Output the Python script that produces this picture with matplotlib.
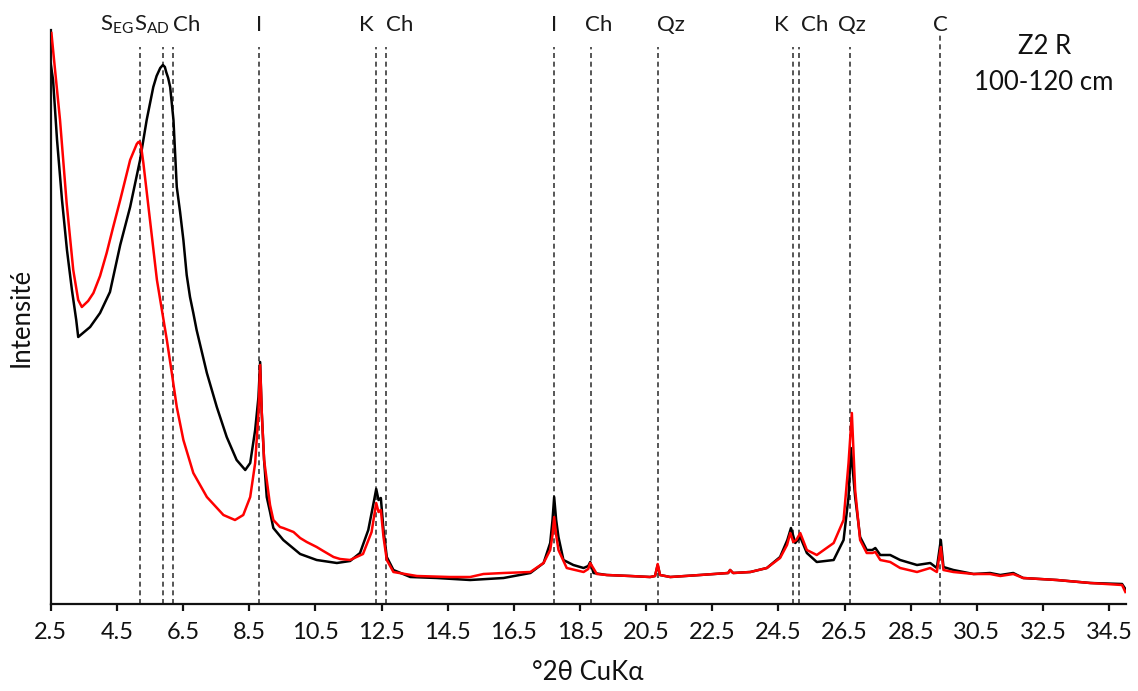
import matplotlib
matplotlib.use("Agg")
import matplotlib.pyplot as plt
import numpy as np

plt.rcParams['font.family'] = ['Lato', 'DejaVu Sans']
plt.rcParams['mathtext.default'] = 'regular'

# Diffractogram, air-dried sample (black): 2theta (deg) / intensity (a.u.)
tt_ad = [2.50, 2.57, 2.69, 2.84, 2.99, 3.14, 3.27, 3.33, 3.69, 3.99, 4.29, 4.60,
         4.90, 5.20, 5.40, 5.60, 5.70, 5.81, 5.89, 5.95, 5.99, 6.05, 6.11, 6.21,
         6.31, 6.41, 6.51, 6.61, 6.71, 6.81, 6.91, 7.22, 7.52, 7.82, 8.12, 8.38,
         8.53, 8.68, 8.78, 8.83, 8.88, 8.95, 9.03, 9.13, 9.23, 9.53, 10.04, 10.54,
         11.15, 11.55, 11.85, 12.10, 12.26, 12.34, 12.41, 12.48, 12.56, 12.66, 12.86,
         13.37, 14.17, 15.18, 16.19, 17.00, 17.40, 17.60, 17.67, 17.72, 17.78, 17.85,
         18.00, 18.30, 18.61, 18.75, 18.81, 18.91, 19.31, 20.02, 20.62, 20.77, 20.85,
         20.92, 21.23, 22.13, 22.98, 23.04, 23.13, 23.65, 24.15, 24.55, 24.77, 24.88,
         25.01, 25.16, 25.36, 25.66, 26.17, 26.47, 26.62, 26.69, 26.82, 26.97, 27.17,
         27.34, 27.43, 27.58, 27.88, 28.18, 28.69, 29.09, 29.29, 29.41, 29.49, 29.79,
         30.40, 30.90, 31.21, 31.60, 31.90, 32.92, 33.93, 34.89, 34.99]
int_ad = [540, 524, 464, 404, 354, 314, 284, 267, 277, 291, 312, 359,
          397, 444, 484, 517, 528, 536, 539, 537, 532, 526, 517, 484,
          417, 392, 364, 329, 307, 291, 274, 231, 197, 167, 144, 134,
          141, 174, 207, 242, 191, 144, 107, 92, 76, 64, 50, 44,
          41, 43, 51, 74, 101, 115, 104, 106, 74, 47, 34,
          27, 26, 24, 26, 31, 41, 61, 84, 107, 84, 67,
          44, 39, 36, 38, 42, 31, 29, 28, 27, 28, 39,
          29, 27, 29, 31, 34, 31, 32, 36, 47, 64, 76,
          61, 67, 51, 42, 44, 64, 107, 156, 107, 67, 54,
          54, 56, 49, 49, 44, 39, 41, 36, 64, 37, 34,
          30, 31, 29, 31, 26, 24, 21, 20, 15]

# Diffractogram, ethylene-glycol sample (red)
tt_eg = [2.52, 2.63, 2.78, 2.98, 3.18, 3.33, 3.44, 3.63, 3.79, 3.99, 4.19, 4.38,
         4.60, 4.75, 4.90, 5.05, 5.10, 5.15, 5.19, 5.23, 5.30, 5.50, 5.71, 5.86,
         6.01, 6.16, 6.31, 6.51, 6.81, 7.22, 7.72, 8.07, 8.32, 8.53, 8.68, 8.78,
         8.83, 8.88, 8.95, 9.03, 9.13, 9.23, 9.43, 9.53, 9.84, 10.04, 10.24, 10.54,
         10.74, 11.05, 11.25, 11.55, 11.94, 12.20, 12.34, 12.41, 12.48, 12.56, 12.66,
         12.86, 13.57, 14.57, 15.18, 15.58, 16.19, 17.00, 17.40, 17.60, 17.67, 17.72,
         17.78, 17.85, 18.10, 18.61, 18.75, 18.81, 19.01, 19.31, 20.02, 20.62, 20.77,
         20.85, 20.92, 21.23, 22.13, 22.98, 23.04, 23.13, 23.65, 24.15, 24.55, 24.76,
         24.86, 24.95, 25.04, 25.16, 25.36, 25.66, 26.17, 26.47, 26.62, 26.72, 26.82,
         26.97, 27.17, 27.34, 27.43, 27.58, 27.88, 28.18, 28.69, 29.09, 29.29, 29.41,
         29.49, 29.79, 30.40, 30.90, 31.21, 31.60, 31.90, 32.92, 33.93, 34.89, 34.99]
int_eg = [571, 534, 484, 401, 334, 304, 297, 303, 311, 328, 351, 376,
          404, 424, 444, 456, 460, 462, 462, 458, 441, 384, 324, 294,
          264, 231, 197, 164, 131, 107, 89, 84, 89, 107, 141, 191,
          239, 191, 144, 124, 99, 84, 77, 76, 72, 66, 62, 57,
          53, 47, 45, 44, 50, 72, 101, 92, 94, 67, 44,
          32, 28, 27, 27, 30, 31, 32, 41, 54, 69, 87,
          69, 54, 36, 32, 35, 41, 30, 29, 28, 27, 28,
          40, 29, 27, 29, 31, 34, 31, 32, 36, 46, 59,
          71, 62, 64, 71, 54, 49, 61, 84, 141, 191, 114,
          64, 51, 51, 52, 44, 42, 36, 32, 36, 32, 57,
          34, 32, 30, 30, 28, 30, 26, 24, 21, 19, 12]

# Reference reflections: position (deg 2theta) and top of the marker line
ref_pos = [5.20, 5.89, 6.19, 8.80, 12.33, 12.64, 17.72, 18.84, 20.86,
           24.93, 25.13, 26.65, 29.40]
ref_top = [557, 557, 557, 557, 557, 557, 557, 557, 557, 557, 557, 557, 569]

# Phase labels above the marker lines
lab_text = ['S$_{EG}$', 'S$_{AD}$', 'Ch', 'I', 'K', 'Ch', 'I', 'Ch', 'Qz',
            'K', 'Ch', 'Qz', 'C']
lab_pos = [5.02, 5.02, 6.20, 8.80, 12.05, 13.05, 17.72, 19.06, 21.26,
           24.60, 25.61, 26.71, 29.39]
lab_ha = ['right', 'left', 'left', 'center', 'center', 'center', 'center',
          'center', 'center', 'center', 'center', 'center', 'center']

xticks = np.arange(2.5, 35.0, 2.0)

fig = plt.figure(figsize=(11.38, 6.91), dpi=100)
ax = fig.add_axes([0.0446, 0.1259, 0.9446, 0.8307])

ax.vlines(ref_pos, 0, ref_top, colors='#3a3a3a', linewidth=1.2,
          linestyles=(0, (3, 2.2)), zorder=1)

ax.plot(tt_ad, int_ad, color='black', linewidth=1.8, zorder=3)
ax.plot(tt_eg, int_eg, color='#ff0000', linewidth=1.8, zorder=4)

for t, x, ha in zip(lab_text, lab_pos, lab_ha):
    ax.text(x, 579, t, ha=ha, va='center', fontsize=16, color='#1a1a1a',
            clip_on=False)

ax.set_xlim(2.5, 35.0)
ax.set_ylim(0, 574)
ax.set_xticks(xticks)
ax.set_xticklabels([f"{v:.1f}" for v in xticks])
ax.set_yticks([])

for s in ['top', 'right']:
    ax.spines[s].set_visible(False)
for s in ['left', 'bottom']:
    ax.spines[s].set_linewidth(1.6)
    ax.spines[s].set_color('#111111')

ax.tick_params(axis='x', direction='out', length=5, width=1.6,
               labelsize=17, colors='#111111', pad=8)

ax.set_xlabel('°2θ CuKα', fontsize=18.5, color='#111111', labelpad=12)
ax.set_ylabel('Intensité', fontsize=18.5, color='#111111', labelpad=12)

fig.text(0.9175, 0.933, 'Z2 R', ha='center', va='center', fontsize=18.5,
         color='#111111')
fig.text(0.9175, 0.880, '100-120 cm', ha='center', va='center', fontsize=18.5,
         color='#111111')

fig.savefig('out.png', dpi=100, facecolor='white')
